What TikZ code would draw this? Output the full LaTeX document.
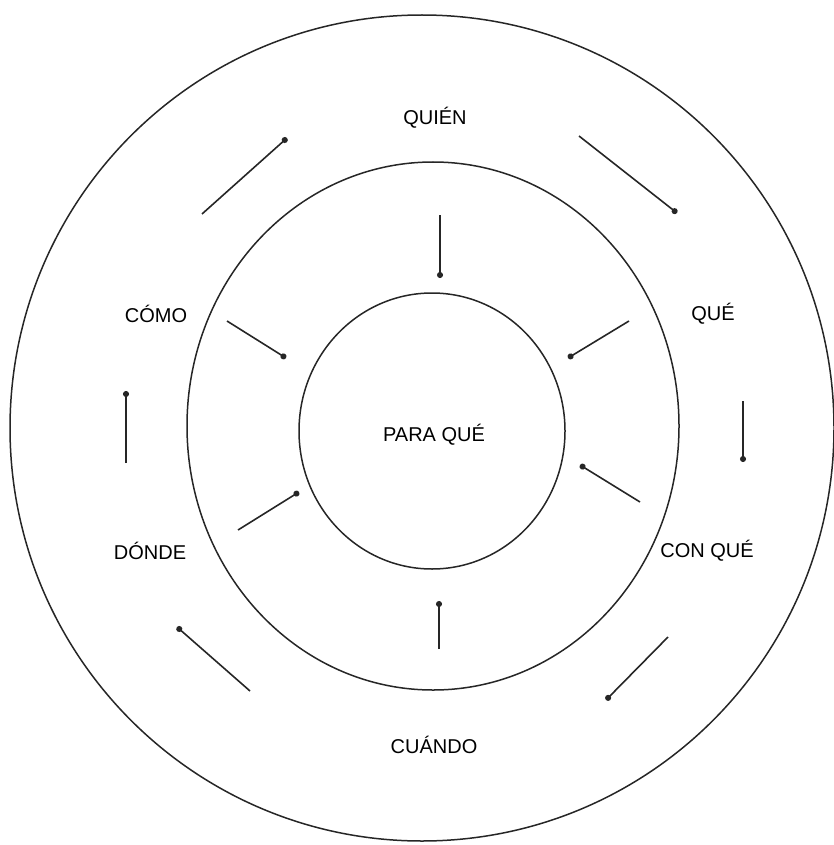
\documentclass[tikz,border=0pt]{standalone}
\usepackage{fontspec}
\setmainfont{Liberation Sans}
\usetikzlibrary{arrows.meta}
\begin{document}
\begin{tikzpicture}[x=1pt,y=-1pt,
  ring/.style={draw=black!85,line width=1.5pt},
  lbl/.style={font=\fontsize{20}{22}\selectfont},
  arr/.style={draw=black!85,line width=1.6pt,-{Circle[length=6pt]}}]
\useasboundingbox (0,0) rectangle (833,845);
\draw[ring] (422,428) ellipse [x radius=412,y radius=413];
\draw[ring] (433,426) ellipse [x radius=246,y radius=264];
\draw[ring] (432,431) ellipse [x radius=133,y radius=138];
\node[lbl] (quien) at (435,118) {QUIÉN};
\node[lbl] (que) at (713,314) {QUÉ};
\node[lbl] (conque) at (707,551) {CON QUÉ};
\node[lbl] (cuando) at (434,745) {CUÁNDO};
\node[lbl] (donde) at (150,551) {DÓNDE};
\node[lbl] (como) at (156,314) {CÓMO};
\node[lbl] (paraque) at (434,435) {PARA QUÉ};
% outer ring arrows
\coordinate (a1s) at (202,214); \coordinate (a1e) at (287,138);
\coordinate (a2s) at (579,136); \coordinate (a2e) at (677,213);
\coordinate (a3s) at (743,401); \coordinate (a3e) at (743,462);
\coordinate (a4s) at (668,637); \coordinate (a4e) at (606,700);
\coordinate (a5s) at (250,691); \coordinate (a5e) at (177,627);
\coordinate (a6s) at (126,463); \coordinate (a6e) at (126,391);
\foreach \i in {1,...,6} \draw[arr] (a\i s) -- (a\i e);
% inward arrows
\coordinate (b1s) at (440,215); \coordinate (b1e) at (440,278);
\coordinate (b2s) at (629,321); \coordinate (b2e) at (568,358);
\coordinate (b3s) at (640,502); \coordinate (b3e) at (580,465);
\coordinate (b4s) at (439,649); \coordinate (b4e) at (439,601);
\coordinate (b5s) at (238,530); \coordinate (b5e) at (299,492);
\coordinate (b6s) at (227,321); \coordinate (b6e) at (286,358);
\foreach \i in {1,...,6} \draw[arr] (b\i s) -- (b\i e);
\end{tikzpicture}
\end{document}
